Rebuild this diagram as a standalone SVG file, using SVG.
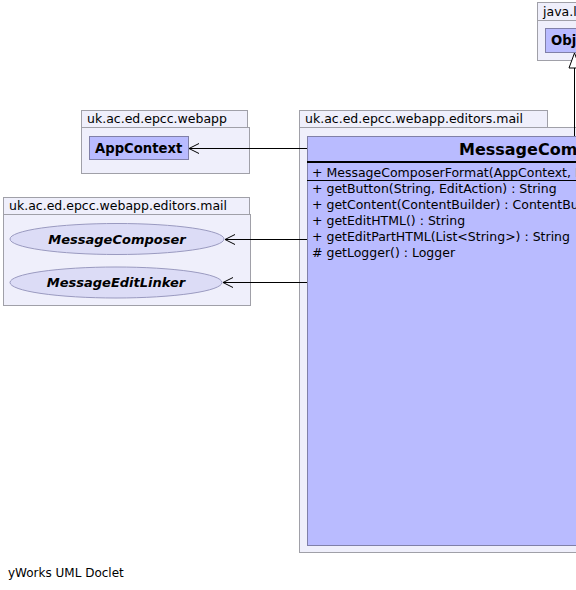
<svg xmlns="http://www.w3.org/2000/svg" width="576" height="590" viewBox="0 0 576 590">
<defs>
<style>
.pkg{fill:#efeffb;stroke:#a0a0a8;stroke-width:1}
.cls{fill:#b9bbff;stroke:#8080a8;stroke-width:1}
.ell{fill:#dcdcf6;stroke:#9a9ac0;stroke-width:1}
.t{font-family:"DejaVu Sans",sans-serif;font-size:12.5px;fill:#000}
.b{font-weight:bold;font-size:13.2px}
.bi{font-weight:bold;font-style:italic;font-size:13px}
.edge{stroke:#000;stroke-width:1;fill:none}
</style>
<marker id="open" markerWidth="12" markerHeight="12" refX="11" refY="6" orient="auto" markerUnits="userSpaceOnUse">
<path d="M1,1 L11,6 L1,11" fill="none" stroke="#000" stroke-width="1"/>
</marker>
</defs>
<rect width="576" height="590" fill="#fff"/>

<g id="pkg-java-lang">
<rect class="pkg" x="537.5" y="2.5" width="50" height="18"/>
<rect class="pkg" x="537.5" y="20.5" width="50" height="40"/>
<text class="t" x="543" y="16">java.lang</text>
</g>
<g id="Object">
<rect class="cls" x="545.5" y="28.5" width="40" height="24"/>
<text class="t b" x="551" y="45">Object</text>
</g>

<g id="pkg-webapp">
<rect class="pkg" x="81.5" y="110.5" width="166" height="17"/>
<rect class="pkg" x="81.5" y="127.5" width="168" height="46"/>
<text class="t" x="87" y="123">uk.ac.ed.epcc.webapp</text>
</g>
<g id="AppContext">
<rect class="cls" x="89.5" y="136.5" width="99" height="23"/>
<text class="t b" x="95" y="152.5">AppContext</text>
</g>

<g id="pkg-mail-left">
<rect class="pkg" x="3.5" y="197.5" width="246" height="17"/>
<rect class="pkg" x="3.5" y="214.5" width="247" height="91"/>
<text class="t" x="9" y="210">uk.ac.ed.epcc.webapp.editors.mail</text>
</g>
<g id="MessageComposer">
<ellipse class="ell" cx="117" cy="239" rx="107" ry="15.5"/>
<text class="t bi" x="117" y="244" text-anchor="middle">MessageComposer</text>
</g>
<g id="MessageEditLinker">
<ellipse class="ell" cx="116" cy="282.5" rx="106" ry="15.5"/>
<text class="t bi" x="116" y="287" text-anchor="middle">MessageEditLinker</text>
</g>

<g id="pkg-mail-right">
<rect class="pkg" x="299.5" y="110.5" width="248" height="17"/>
<rect class="pkg" x="299.5" y="127.5" width="300" height="425"/>
<text class="t" x="305" y="123">uk.ac.ed.epcc.webapp.editors.mail</text>
</g>
<g id="MessageComposerFormat">
<rect class="cls" x="307.5" y="136.5" width="290" height="409"/>
<text class="t" x="459" y="155" style="font-size:16px;font-weight:bold">MessageComposerFormat</text>
<line x1="307" y1="161.5" x2="600" y2="161.5" stroke="#000"/>
<line x1="307" y1="162.5" x2="600" y2="162.5" stroke="#000"/>
<text class="t" x="312" y="177">+ MessageComposerFormat(AppContext, MessageComposer)</text>
<line x1="307" y1="180.5" x2="600" y2="180.5" stroke="#000"/>
<text class="t" x="312" y="193">+ getButton(String, EditAction) : String</text>
<text class="t" x="312" y="209">+ getContent(ContentBuilder) : ContentBuilder</text>
<text class="t" x="312" y="225">+ getEditHTML() : String</text>
<text class="t" x="312" y="241">+ getEditPartHTML(List&lt;String&gt;) : String</text>
<text class="t" x="312" y="257"># getLogger() : Logger</text>
</g>

<g id="connectors">
<path class="edge" d="M574.5,136 V68"/>
<polygon points="574.5,53 580,68 569,68" fill="#fff" stroke="#000" stroke-width="1"/>
<path class="edge" d="M307,148.5 H189" marker-end="url(#open)"/>
<path class="edge" d="M307,239.5 H225" marker-end="url(#open)"/>
<path class="edge" d="M307,282.5 H223" marker-end="url(#open)"/>
</g>

<text class="t" x="8" y="577" style="font-size:12px">yWorks UML Doclet</text>
</svg>
